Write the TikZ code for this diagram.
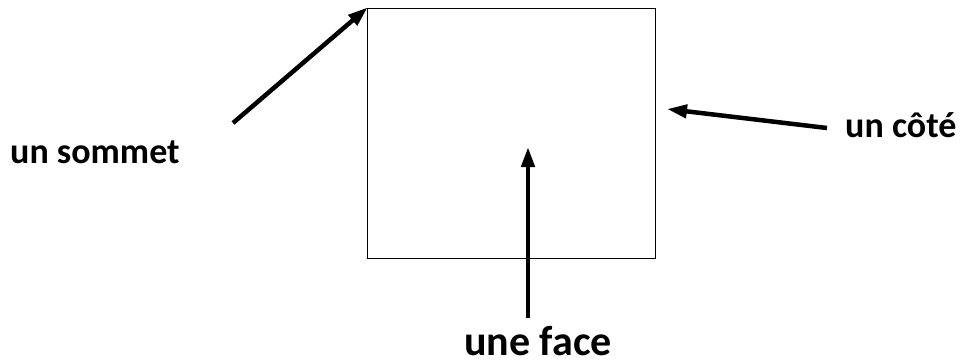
\documentclass[tikz,border=0pt]{standalone}
\usepackage{fontspec}
\setmainfont{Carlito}
\usetikzlibrary{arrows.meta}

\tikzset{
  label text/.style={font=\bfseries\fontsize{36}{40}\selectfont, inner sep=0pt, text depth=0pt},
  pointer/.style={line width=4.5pt, -{Triangle[length=20pt, width=13pt]}}
}

\begin{document}
\begin{tikzpicture}[x=1pt, y=-1pt]
    % Fix page size
    \useasboundingbox (0,0) rectangle (962,364);

    % Draw the square
    \node[draw, line width=1.4pt, minimum width=288pt, minimum height=250pt, inner sep=0pt, anchor=north west] (square) at (367,8) {};

    % Labels
    \node[label text, anchor=base west] (sommet) at (10,163) {un sommet};
    \node[label text, anchor=base west] (cote) at (845,137) {un côté};
    \node[label text, font=\bfseries\fontsize{42}{46}\selectfont, anchor=base] (face) at (538,355) {une face};

    % Arrow ends
    \coordinate (sommetTail) at (233,123);
    \coordinate (coteTail) at (827,128);
    \coordinate (coteTip) at (667,109);
    \coordinate (faceTail) at (528,318);
    \coordinate (faceTip) at (528,147);

    % Draw arrows
    \draw[pointer, shorten >=-1pt] (sommetTail) -- (square.north west);
    \draw[pointer] (coteTail) -- (coteTip);
    \draw[pointer] (faceTail) -- (faceTip);
\end{tikzpicture}
\end{document}
